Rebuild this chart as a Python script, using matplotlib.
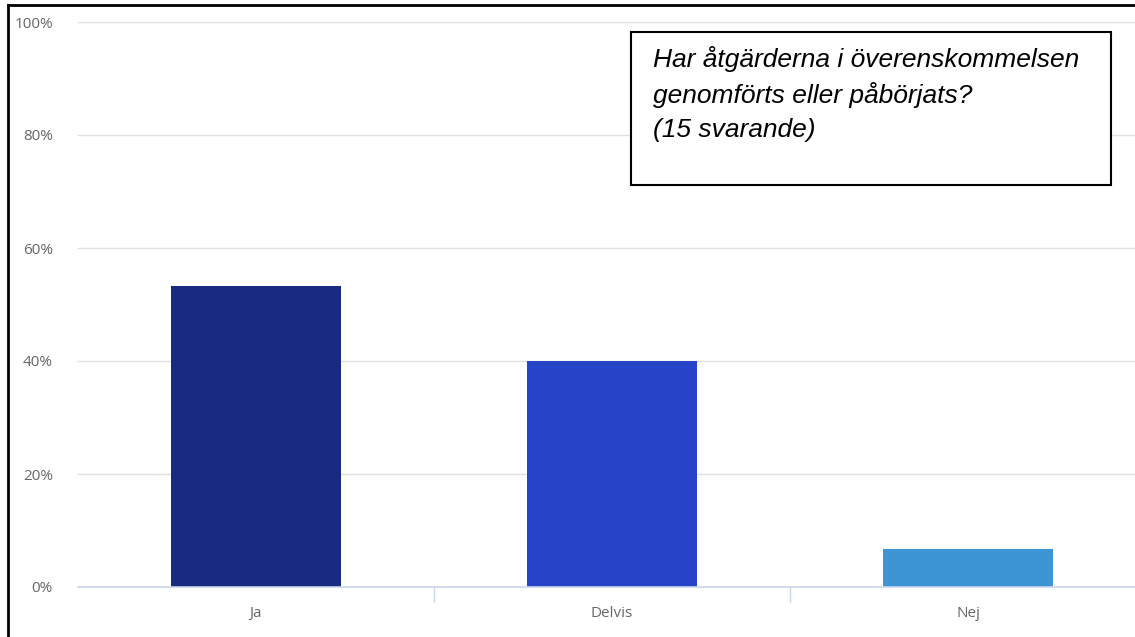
import numpy as np
import matplotlib.pyplot as plt
from matplotlib.lines import Line2D
from matplotlib.patches import Rectangle

categories = ["Ja", "Delvis", "Nej"]
percent = [53.3, 40.0, 6.7]
bar_colors = ["#172b80", "#2744c8", "#3d95d5"]
yticks = [0, 20, 40, 60, 80, 100]
question = "Har åtgärderna i överenskommelsen\ngenomförts eller påbörjats?\n(15 svarande)"

W, H = 1135, 637
fig = plt.figure(figsize=(W / 100, H / 100), dpi=100)
ax = fig.add_axes([78 / W, 50 / H, 1068 / W, 565 / H])

x = np.arange(len(categories))
ax.bar(x, percent, width=0.48, color=bar_colors, zorder=3)

ax.set_xlim(-0.5, len(categories) - 0.5)
ax.set_ylim(0, 100)
ax.set_yticks(yticks)
ax.set_yticklabels([f"{v}%" for v in yticks])
ax.yaxis.grid(True, color="#e0e0e0", linewidth=1, zorder=0)
ax.tick_params(axis="y", length=0, pad=18, labelsize=11, labelcolor="#666666")
ax.set_xticks(x)
ax.set_xticklabels(categories)
ax.tick_params(axis="x", length=0, pad=14, labelsize=11, labelcolor="#666666")
for s in ["top", "right", "left"]:
    ax.spines[s].set_visible(False)
ax.spines["bottom"].set_color("#ccd6eb")
ax.spines["bottom"].set_linewidth(1.2)
ax.spines["bottom"].set_zorder(4)

# category boundary ticks below the axis
for b in x[:-1] + 0.5:
    ax.plot([b, b], [0, -2.6], color="#ccd6eb", linewidth=1, clip_on=False)

for lbl in ax.get_xticklabels() + ax.get_yticklabels():
    lbl.set_family(["Open Sans", "DejaVu Sans"])

# question box
fig.patches.append(Rectangle((631 / W, 1 - 185 / H), 480 / W, 153 / H,
                             transform=fig.transFigure, facecolor="white",
                             edgecolor="black", linewidth=1.5, zorder=5))
fig.text(653 / W, 1 - 46 / H, question, ha="left", va="top", fontsize=19,
         style="italic", family=["Liberation Sans", "DejaVu Sans"],
         linespacing=1.5, zorder=6)

# black frame on left and top
fig.add_artist(Line2D([8 / W, 8 / W], [0, 1 - 5 / H], transform=fig.transFigure,
                      color="black", linewidth=2))
fig.add_artist(Line2D([8 / W, 1], [1 - 5 / H, 1 - 5 / H], transform=fig.transFigure,
                      color="black", linewidth=2))

fig.savefig("out.png", dpi=100)
